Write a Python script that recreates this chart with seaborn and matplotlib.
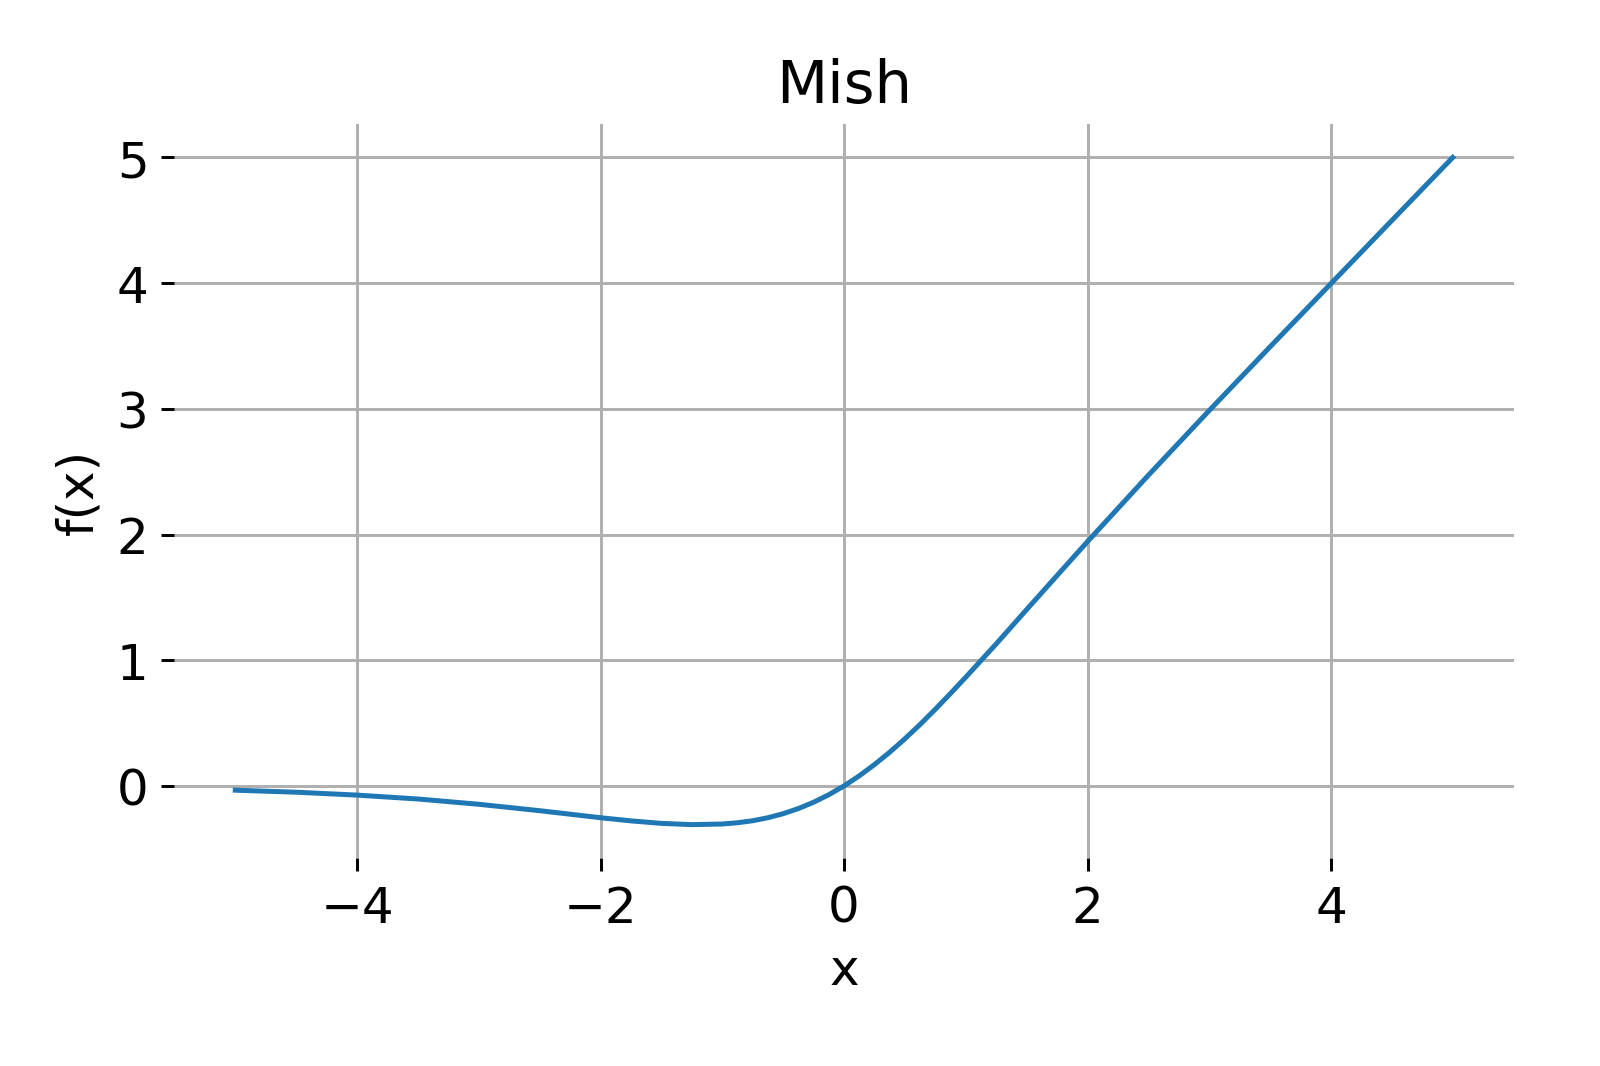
import matplotlib
matplotlib.use("Agg")
import matplotlib.pyplot as plt
import seaborn as sns
import pandas as pd

x_vals = [-5.0, -4.5, -4.0, -3.5, -3.0, -2.5, -2.0, -1.75, -1.5, -1.25, -1.0, -0.875, -0.75,
          -0.625, -0.5, -0.375, -0.25, -0.125, 0.0, 0.125, 0.25, 0.375, 0.5, 0.625, 0.75,
          0.875, 1.0, 1.25, 1.5, 1.75, 2.0, 2.5, 3.0, 3.5, 4.0, 4.5, 5.0]
y_vals = [-0.034, -0.050, -0.073, -0.104, -0.146, -0.197, -0.253, -0.278, -0.298, -0.308,
          -0.303, -0.293, -0.277, -0.253, -0.221, -0.180, -0.130, -0.070, 0.0, 0.080, 0.170,
          0.268, 0.375, 0.489, 0.610, 0.736, 0.865, 1.130, 1.403, 1.674, 1.944, 2.472, 2.987,
          3.494, 3.997, 4.499, 5.000]
title = "Mish"
xlabel = "x"
ylabel = "f(x)"

df = pd.DataFrame({"x": x_vals, "y": y_vals})

plt.rcParams["font.family"] = ["DejaVu Sans"]
fig, ax = plt.subplots(figsize=(6, 4), dpi=266.67)
sns.lineplot(data=df, x="x", y="y", ax=ax, color="#1f77b4", linewidth=1.35)
ax.grid(True, color="#b0b0b0", linewidth=0.8)
ax.set_axisbelow(True)
for s in ax.spines.values():
    s.set_visible(False)
ax.set_title(title, fontsize=16)
ax.set_xlabel(xlabel, fontsize=13.5)
ax.set_ylabel(ylabel, fontsize=13.5)
ax.set_xticks([-4, -2, 0, 2, 4])
ax.set_yticks([0, 1, 2, 3, 4, 5])
ax.tick_params(labelsize=13.5)
fig.subplots_adjust(left=0.109, right=0.946, top=0.883, bottom=0.195)
fig.savefig("out.png", dpi=266.67)
